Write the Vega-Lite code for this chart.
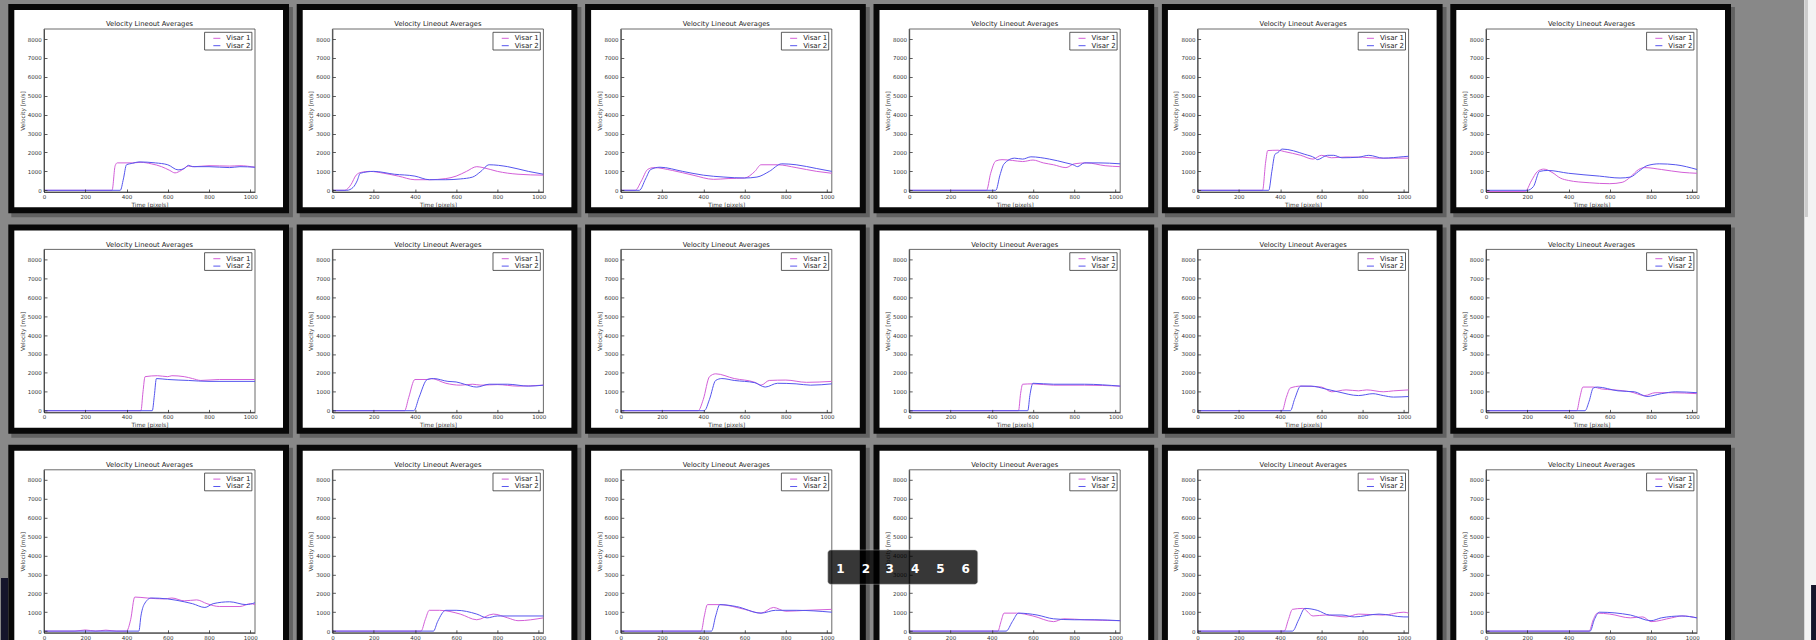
{
"$schema": "https://vega.github.io/schema/vega-lite/v6.json",
"background": "#888888",
"padding": 0,
"autosize": {"type": "pad"},
"data": {"values": [
{"p":1,"s":"Visar 1","t":0,"v":0},{"p":1,"s":"Visar 1","t":330,"v":0},{"p":1,"s":"Visar 1","t":345,"v":1300},{"p":1,"s":"Visar 1","t":355,"v":1450},{"p":1,"s":"Visar 1","t":430,"v":1450},{"p":1,"s":"Visar 1","t":470,"v":1480},{"p":1,"s":"Visar 1","t":520,"v":1400},{"p":1,"s":"Visar 1","t":570,"v":1250},{"p":1,"s":"Visar 1","t":610,"v":1050},{"p":1,"s":"Visar 1","t":635,"v":920},{"p":1,"s":"Visar 1","t":665,"v":1050},{"p":1,"s":"Visar 1","t":700,"v":1280},{"p":1,"s":"Visar 1","t":730,"v":1250},{"p":1,"s":"Visar 1","t":800,"v":1300},{"p":1,"s":"Visar 1","t":900,"v":1280},{"p":1,"s":"Visar 1","t":950,"v":1300},{"p":1,"s":"Visar 1","t":1023,"v":1220},
{"p":1,"s":"Visar 2","t":0,"v":0},{"p":1,"s":"Visar 2","t":370,"v":0},{"p":1,"s":"Visar 2","t":385,"v":600},{"p":1,"s":"Visar 2","t":400,"v":1350},{"p":1,"s":"Visar 2","t":430,"v":1430},{"p":1,"s":"Visar 2","t":460,"v":1500},{"p":1,"s":"Visar 2","t":540,"v":1450},{"p":1,"s":"Visar 2","t":600,"v":1350},{"p":1,"s":"Visar 2","t":650,"v":1080},{"p":1,"s":"Visar 2","t":680,"v":1150},{"p":1,"s":"Visar 2","t":700,"v":1320},{"p":1,"s":"Visar 2","t":720,"v":1250},{"p":1,"s":"Visar 2","t":800,"v":1250},{"p":1,"s":"Visar 2","t":900,"v":1200},{"p":1,"s":"Visar 2","t":950,"v":1250},{"p":1,"s":"Visar 2","t":1023,"v":1220},
{"p":2,"s":"Visar 1","t":0,"v":0},{"p":2,"s":"Visar 1","t":60,"v":0},{"p":2,"s":"Visar 1","t":90,"v":300},{"p":2,"s":"Visar 1","t":115,"v":800},{"p":2,"s":"Visar 1","t":140,"v":950},{"p":2,"s":"Visar 1","t":180,"v":1000},{"p":2,"s":"Visar 1","t":250,"v":900},{"p":2,"s":"Visar 1","t":320,"v":750},{"p":2,"s":"Visar 1","t":400,"v":560},{"p":2,"s":"Visar 1","t":470,"v":560},{"p":2,"s":"Visar 1","t":550,"v":620},{"p":2,"s":"Visar 1","t":600,"v":750},{"p":2,"s":"Visar 1","t":650,"v":1000},{"p":2,"s":"Visar 1","t":700,"v":1250},{"p":2,"s":"Visar 1","t":730,"v":1200},{"p":2,"s":"Visar 1","t":800,"v":1000},{"p":2,"s":"Visar 1","t":900,"v":850},{"p":2,"s":"Visar 1","t":1023,"v":800},
{"p":2,"s":"Visar 2","t":0,"v":0},{"p":2,"s":"Visar 2","t":70,"v":0},{"p":2,"s":"Visar 2","t":100,"v":150},{"p":2,"s":"Visar 2","t":120,"v":500},{"p":2,"s":"Visar 2","t":135,"v":900},{"p":2,"s":"Visar 2","t":200,"v":1000},{"p":2,"s":"Visar 2","t":300,"v":850},{"p":2,"s":"Visar 2","t":400,"v":750},{"p":2,"s":"Visar 2","t":470,"v":560},{"p":2,"s":"Visar 2","t":550,"v":560},{"p":2,"s":"Visar 2","t":620,"v":600},{"p":2,"s":"Visar 2","t":680,"v":700},{"p":2,"s":"Visar 2","t":720,"v":1000},{"p":2,"s":"Visar 2","t":760,"v":1350},{"p":2,"s":"Visar 2","t":850,"v":1250},{"p":2,"s":"Visar 2","t":950,"v":1000},{"p":2,"s":"Visar 2","t":1023,"v":850},
{"p":3,"s":"Visar 1","t":0,"v":0},{"p":3,"s":"Visar 1","t":70,"v":0},{"p":3,"s":"Visar 1","t":100,"v":500},{"p":3,"s":"Visar 1","t":130,"v":1100},{"p":3,"s":"Visar 1","t":160,"v":1200},{"p":3,"s":"Visar 1","t":250,"v":1050},{"p":3,"s":"Visar 1","t":350,"v":800},{"p":3,"s":"Visar 1","t":450,"v":580},{"p":3,"s":"Visar 1","t":520,"v":620},{"p":3,"s":"Visar 1","t":600,"v":650},{"p":3,"s":"Visar 1","t":650,"v":1000},{"p":3,"s":"Visar 1","t":680,"v":1350},{"p":3,"s":"Visar 1","t":760,"v":1350},{"p":3,"s":"Visar 1","t":850,"v":1200},{"p":3,"s":"Visar 1","t":950,"v":1000},{"p":3,"s":"Visar 1","t":1023,"v":900},
{"p":3,"s":"Visar 2","t":0,"v":0},{"p":3,"s":"Visar 2","t":90,"v":0},{"p":3,"s":"Visar 2","t":120,"v":600},{"p":3,"s":"Visar 2","t":145,"v":1100},{"p":3,"s":"Visar 2","t":190,"v":1220},{"p":3,"s":"Visar 2","t":300,"v":1000},{"p":3,"s":"Visar 2","t":400,"v":800},{"p":3,"s":"Visar 2","t":500,"v":700},{"p":3,"s":"Visar 2","t":600,"v":650},{"p":3,"s":"Visar 2","t":660,"v":700},{"p":3,"s":"Visar 2","t":720,"v":1000},{"p":3,"s":"Visar 2","t":780,"v":1400},{"p":3,"s":"Visar 2","t":850,"v":1350},{"p":3,"s":"Visar 2","t":950,"v":1150},{"p":3,"s":"Visar 2","t":1023,"v":1000},
{"p":4,"s":"Visar 1","t":0,"v":0},{"p":4,"s":"Visar 1","t":375,"v":0},{"p":4,"s":"Visar 1","t":395,"v":900},{"p":4,"s":"Visar 1","t":420,"v":1550},{"p":4,"s":"Visar 1","t":450,"v":1620},{"p":4,"s":"Visar 1","t":500,"v":1580},{"p":4,"s":"Visar 1","t":550,"v":1520},{"p":4,"s":"Visar 1","t":600,"v":1600},{"p":4,"s":"Visar 1","t":650,"v":1450},{"p":4,"s":"Visar 1","t":700,"v":1350},{"p":4,"s":"Visar 1","t":760,"v":1200},{"p":4,"s":"Visar 1","t":800,"v":1400},{"p":4,"s":"Visar 1","t":860,"v":1450},{"p":4,"s":"Visar 1","t":950,"v":1300},{"p":4,"s":"Visar 1","t":1023,"v":1250},
{"p":4,"s":"Visar 2","t":0,"v":0},{"p":4,"s":"Visar 2","t":420,"v":0},{"p":4,"s":"Visar 2","t":440,"v":800},{"p":4,"s":"Visar 2","t":460,"v":1400},{"p":4,"s":"Visar 2","t":510,"v":1700},{"p":4,"s":"Visar 2","t":550,"v":1650},{"p":4,"s":"Visar 2","t":590,"v":1770},{"p":4,"s":"Visar 2","t":680,"v":1650},{"p":4,"s":"Visar 2","t":760,"v":1450},{"p":4,"s":"Visar 2","t":800,"v":1330},{"p":4,"s":"Visar 2","t":815,"v":1250},{"p":4,"s":"Visar 2","t":850,"v":1450},{"p":4,"s":"Visar 2","t":920,"v":1450},{"p":4,"s":"Visar 2","t":1023,"v":1400},
{"p":5,"s":"Visar 1","t":0,"v":0},{"p":5,"s":"Visar 1","t":315,"v":0},{"p":5,"s":"Visar 1","t":330,"v":1500},{"p":5,"s":"Visar 1","t":340,"v":2100},{"p":5,"s":"Visar 1","t":390,"v":2120},{"p":5,"s":"Visar 1","t":420,"v":2050},{"p":5,"s":"Visar 1","t":500,"v":1850},{"p":5,"s":"Visar 1","t":560,"v":1650},{"p":5,"s":"Visar 1","t":600,"v":1850},{"p":5,"s":"Visar 1","t":650,"v":1720},{"p":5,"s":"Visar 1","t":720,"v":1760},{"p":5,"s":"Visar 1","t":800,"v":1750},{"p":5,"s":"Visar 1","t":870,"v":1700},{"p":5,"s":"Visar 1","t":1023,"v":1700},
{"p":5,"s":"Visar 2","t":0,"v":0},{"p":5,"s":"Visar 2","t":345,"v":0},{"p":5,"s":"Visar 2","t":360,"v":1000},{"p":5,"s":"Visar 2","t":375,"v":1900},{"p":5,"s":"Visar 2","t":390,"v":2000},{"p":5,"s":"Visar 2","t":410,"v":2180},{"p":5,"s":"Visar 2","t":520,"v":1900},{"p":5,"s":"Visar 2","t":570,"v":1700},{"p":5,"s":"Visar 2","t":580,"v":1620},{"p":5,"s":"Visar 2","t":630,"v":1850},{"p":5,"s":"Visar 2","t":660,"v":1850},{"p":5,"s":"Visar 2","t":700,"v":1720},{"p":5,"s":"Visar 2","t":780,"v":1750},{"p":5,"s":"Visar 2","t":830,"v":1850},{"p":5,"s":"Visar 2","t":900,"v":1700},{"p":5,"s":"Visar 2","t":1000,"v":1780},{"p":5,"s":"Visar 2","t":1023,"v":1800},
{"p":6,"s":"Visar 1","t":0,"v":-60},{"p":6,"s":"Visar 1","t":190,"v":-60},{"p":6,"s":"Visar 1","t":220,"v":500},{"p":6,"s":"Visar 1","t":250,"v":1000},{"p":6,"s":"Visar 1","t":280,"v":1120},{"p":6,"s":"Visar 1","t":320,"v":950},{"p":6,"s":"Visar 1","t":360,"v":650},{"p":6,"s":"Visar 1","t":400,"v":520},{"p":6,"s":"Visar 1","t":500,"v":400},{"p":6,"s":"Visar 1","t":600,"v":350},{"p":6,"s":"Visar 1","t":660,"v":420},{"p":6,"s":"Visar 1","t":700,"v":700},{"p":6,"s":"Visar 1","t":740,"v":1100},{"p":6,"s":"Visar 1","t":770,"v":1200},{"p":6,"s":"Visar 1","t":850,"v":1100},{"p":6,"s":"Visar 1","t":950,"v":950},{"p":6,"s":"Visar 1","t":1023,"v":900},
{"p":6,"s":"Visar 2","t":0,"v":0},{"p":6,"s":"Visar 2","t":200,"v":0},{"p":6,"s":"Visar 2","t":230,"v":200},{"p":6,"s":"Visar 2","t":260,"v":1000},{"p":6,"s":"Visar 2","t":300,"v":1050},{"p":6,"s":"Visar 2","t":400,"v":900},{"p":6,"s":"Visar 2","t":550,"v":750},{"p":6,"s":"Visar 2","t":650,"v":650},{"p":6,"s":"Visar 2","t":700,"v":700},{"p":6,"s":"Visar 2","t":740,"v":1000},{"p":6,"s":"Visar 2","t":780,"v":1300},{"p":6,"s":"Visar 2","t":840,"v":1400},{"p":6,"s":"Visar 2","t":920,"v":1350},{"p":6,"s":"Visar 2","t":1023,"v":1100},
{"p":7,"s":"Visar 1","t":0,"v":0},{"p":7,"s":"Visar 1","t":470,"v":0},{"p":7,"s":"Visar 1","t":480,"v":1000},{"p":7,"s":"Visar 1","t":490,"v":1800},{"p":7,"s":"Visar 1","t":550,"v":1850},{"p":7,"s":"Visar 1","t":600,"v":1800},{"p":7,"s":"Visar 1","t":620,"v":1850},{"p":7,"s":"Visar 1","t":680,"v":1800},{"p":7,"s":"Visar 1","t":720,"v":1700},{"p":7,"s":"Visar 1","t":760,"v":1600},{"p":7,"s":"Visar 1","t":850,"v":1650},{"p":7,"s":"Visar 1","t":1023,"v":1650},
{"p":7,"s":"Visar 2","t":0,"v":0},{"p":7,"s":"Visar 2","t":525,"v":0},{"p":7,"s":"Visar 2","t":535,"v":800},{"p":7,"s":"Visar 2","t":545,"v":1700},{"p":7,"s":"Visar 2","t":600,"v":1650},{"p":7,"s":"Visar 2","t":700,"v":1600},{"p":7,"s":"Visar 2","t":800,"v":1550},{"p":7,"s":"Visar 2","t":1023,"v":1550},
{"p":8,"s":"Visar 1","t":0,"v":0},{"p":8,"s":"Visar 1","t":350,"v":0},{"p":8,"s":"Visar 1","t":370,"v":700},{"p":8,"s":"Visar 1","t":400,"v":1650},{"p":8,"s":"Visar 1","t":460,"v":1650},{"p":8,"s":"Visar 1","t":480,"v":1700},{"p":8,"s":"Visar 1","t":550,"v":1450},{"p":8,"s":"Visar 1","t":620,"v":1350},{"p":8,"s":"Visar 1","t":680,"v":1400},{"p":8,"s":"Visar 1","t":720,"v":1350},{"p":8,"s":"Visar 1","t":800,"v":1380},{"p":8,"s":"Visar 1","t":900,"v":1300},{"p":8,"s":"Visar 1","t":1023,"v":1350},
{"p":8,"s":"Visar 2","t":0,"v":0},{"p":8,"s":"Visar 2","t":395,"v":0},{"p":8,"s":"Visar 2","t":420,"v":700},{"p":8,"s":"Visar 2","t":460,"v":1650},{"p":8,"s":"Visar 2","t":490,"v":1700},{"p":8,"s":"Visar 2","t":560,"v":1550},{"p":8,"s":"Visar 2","t":600,"v":1520},{"p":8,"s":"Visar 2","t":640,"v":1400},{"p":8,"s":"Visar 2","t":700,"v":1250},{"p":8,"s":"Visar 2","t":760,"v":1400},{"p":8,"s":"Visar 2","t":850,"v":1400},{"p":8,"s":"Visar 2","t":950,"v":1300},{"p":8,"s":"Visar 2","t":1023,"v":1350},
{"p":9,"s":"Visar 1","t":0,"v":0},{"p":9,"s":"Visar 1","t":375,"v":0},{"p":9,"s":"Visar 1","t":400,"v":600},{"p":9,"s":"Visar 1","t":430,"v":1800},{"p":9,"s":"Visar 1","t":460,"v":1950},{"p":9,"s":"Visar 1","t":550,"v":1700},{"p":9,"s":"Visar 1","t":650,"v":1500},{"p":9,"s":"Visar 1","t":680,"v":1350},{"p":9,"s":"Visar 1","t":720,"v":1600},{"p":9,"s":"Visar 1","t":800,"v":1620},{"p":9,"s":"Visar 1","t":900,"v":1500},{"p":9,"s":"Visar 1","t":1023,"v":1550},
{"p":9,"s":"Visar 2","t":0,"v":0},{"p":9,"s":"Visar 2","t":405,"v":0},{"p":9,"s":"Visar 2","t":430,"v":600},{"p":9,"s":"Visar 2","t":460,"v":1600},{"p":9,"s":"Visar 2","t":490,"v":1700},{"p":9,"s":"Visar 2","t":550,"v":1600},{"p":9,"s":"Visar 2","t":650,"v":1480},{"p":9,"s":"Visar 2","t":700,"v":1250},{"p":9,"s":"Visar 2","t":760,"v":1450},{"p":9,"s":"Visar 2","t":850,"v":1420},{"p":9,"s":"Visar 2","t":920,"v":1350},{"p":9,"s":"Visar 2","t":1023,"v":1420},
{"p":10,"s":"Visar 1","t":0,"v":0},{"p":10,"s":"Visar 1","t":530,"v":0},{"p":10,"s":"Visar 1","t":540,"v":900},{"p":10,"s":"Visar 1","t":550,"v":1400},{"p":10,"s":"Visar 1","t":600,"v":1420},{"p":10,"s":"Visar 1","t":700,"v":1350},{"p":10,"s":"Visar 1","t":850,"v":1350},{"p":10,"s":"Visar 1","t":1023,"v":1300},
{"p":10,"s":"Visar 2","t":0,"v":0},{"p":10,"s":"Visar 2","t":575,"v":0},{"p":10,"s":"Visar 2","t":585,"v":800},{"p":10,"s":"Visar 2","t":600,"v":1450},{"p":10,"s":"Visar 2","t":700,"v":1400},{"p":10,"s":"Visar 2","t":850,"v":1400},{"p":10,"s":"Visar 2","t":1023,"v":1300},
{"p":11,"s":"Visar 1","t":0,"v":0},{"p":11,"s":"Visar 1","t":410,"v":0},{"p":11,"s":"Visar 1","t":430,"v":700},{"p":11,"s":"Visar 1","t":450,"v":1200},{"p":11,"s":"Visar 1","t":500,"v":1300},{"p":11,"s":"Visar 1","t":600,"v":1250},{"p":11,"s":"Visar 1","t":650,"v":1000},{"p":11,"s":"Visar 1","t":720,"v":1100},{"p":11,"s":"Visar 1","t":780,"v":1050},{"p":11,"s":"Visar 1","t":820,"v":1100},{"p":11,"s":"Visar 1","t":900,"v":1000},{"p":11,"s":"Visar 1","t":950,"v":1050},{"p":11,"s":"Visar 1","t":1023,"v":1100},
{"p":11,"s":"Visar 2","t":0,"v":0},{"p":11,"s":"Visar 2","t":450,"v":0},{"p":11,"s":"Visar 2","t":470,"v":600},{"p":11,"s":"Visar 2","t":500,"v":1300},{"p":11,"s":"Visar 2","t":550,"v":1300},{"p":11,"s":"Visar 2","t":620,"v":1150},{"p":11,"s":"Visar 2","t":680,"v":1000},{"p":11,"s":"Visar 2","t":780,"v":800},{"p":11,"s":"Visar 2","t":850,"v":900},{"p":11,"s":"Visar 2","t":900,"v":800},{"p":11,"s":"Visar 2","t":950,"v":720},{"p":11,"s":"Visar 2","t":1023,"v":750},
{"p":12,"s":"Visar 1","t":0,"v":0},{"p":12,"s":"Visar 1","t":440,"v":0},{"p":12,"s":"Visar 1","t":455,"v":700},{"p":12,"s":"Visar 1","t":470,"v":1250},{"p":12,"s":"Visar 1","t":520,"v":1250},{"p":12,"s":"Visar 1","t":560,"v":1150},{"p":12,"s":"Visar 1","t":620,"v":1100},{"p":12,"s":"Visar 1","t":700,"v":1000},{"p":12,"s":"Visar 1","t":770,"v":800},{"p":12,"s":"Visar 1","t":820,"v":950},{"p":12,"s":"Visar 1","t":900,"v":950},{"p":12,"s":"Visar 1","t":1023,"v":900},
{"p":12,"s":"Visar 2","t":0,"v":0},{"p":12,"s":"Visar 2","t":480,"v":0},{"p":12,"s":"Visar 2","t":500,"v":500},{"p":12,"s":"Visar 2","t":520,"v":1200},{"p":12,"s":"Visar 2","t":540,"v":1250},{"p":12,"s":"Visar 2","t":640,"v":1050},{"p":12,"s":"Visar 2","t":720,"v":1000},{"p":12,"s":"Visar 2","t":780,"v":750},{"p":12,"s":"Visar 2","t":850,"v":900},{"p":12,"s":"Visar 2","t":920,"v":1000},{"p":12,"s":"Visar 2","t":1023,"v":950},
{"p":13,"s":"Visar 1","t":0,"v":0},{"p":13,"s":"Visar 1","t":150,"v":0},{"p":13,"s":"Visar 1","t":200,"v":60},{"p":13,"s":"Visar 1","t":250,"v":0},{"p":13,"s":"Visar 1","t":300,"v":50},{"p":13,"s":"Visar 1","t":350,"v":0},{"p":13,"s":"Visar 1","t":400,"v":0},{"p":13,"s":"Visar 1","t":420,"v":600},{"p":13,"s":"Visar 1","t":440,"v":1800},{"p":13,"s":"Visar 1","t":500,"v":1750},{"p":13,"s":"Visar 1","t":580,"v":1700},{"p":13,"s":"Visar 1","t":620,"v":1750},{"p":13,"s":"Visar 1","t":680,"v":1600},{"p":13,"s":"Visar 1","t":740,"v":1650},{"p":13,"s":"Visar 1","t":790,"v":1450},{"p":13,"s":"Visar 1","t":850,"v":1300},{"p":13,"s":"Visar 1","t":950,"v":1300},{"p":13,"s":"Visar 1","t":1000,"v":1450},{"p":13,"s":"Visar 1","t":1023,"v":1400},
{"p":13,"s":"Visar 2","t":0,"v":0},{"p":13,"s":"Visar 2","t":460,"v":0},{"p":13,"s":"Visar 2","t":470,"v":800},{"p":13,"s":"Visar 2","t":485,"v":1400},{"p":13,"s":"Visar 2","t":520,"v":1750},{"p":13,"s":"Visar 2","t":600,"v":1700},{"p":13,"s":"Visar 2","t":680,"v":1550},{"p":13,"s":"Visar 2","t":720,"v":1450},{"p":13,"s":"Visar 2","t":780,"v":1250},{"p":13,"s":"Visar 2","t":820,"v":1450},{"p":13,"s":"Visar 2","t":900,"v":1550},{"p":13,"s":"Visar 2","t":980,"v":1400},{"p":13,"s":"Visar 2","t":1023,"v":1500},
{"p":14,"s":"Visar 1","t":0,"v":0},{"p":14,"s":"Visar 1","t":430,"v":0},{"p":14,"s":"Visar 1","t":450,"v":600},{"p":14,"s":"Visar 1","t":470,"v":1100},{"p":14,"s":"Visar 1","t":520,"v":1100},{"p":14,"s":"Visar 1","t":620,"v":900},{"p":14,"s":"Visar 1","t":700,"v":600},{"p":14,"s":"Visar 1","t":780,"v":900},{"p":14,"s":"Visar 1","t":850,"v":700},{"p":14,"s":"Visar 1","t":900,"v":550},{"p":14,"s":"Visar 1","t":1023,"v":700},
{"p":14,"s":"Visar 2","t":0,"v":0},{"p":14,"s":"Visar 2","t":490,"v":0},{"p":14,"s":"Visar 2","t":510,"v":500},{"p":14,"s":"Visar 2","t":550,"v":1100},{"p":14,"s":"Visar 2","t":600,"v":1100},{"p":14,"s":"Visar 2","t":700,"v":900},{"p":14,"s":"Visar 2","t":750,"v":700},{"p":14,"s":"Visar 2","t":800,"v":800},{"p":14,"s":"Visar 2","t":1023,"v":800},
{"p":15,"s":"Visar 1","t":0,"v":0},{"p":15,"s":"Visar 1","t":390,"v":0},{"p":15,"s":"Visar 1","t":405,"v":800},{"p":15,"s":"Visar 1","t":420,"v":1400},{"p":15,"s":"Visar 1","t":480,"v":1400},{"p":15,"s":"Visar 1","t":600,"v":1150},{"p":15,"s":"Visar 1","t":680,"v":950},{"p":15,"s":"Visar 1","t":740,"v":1250},{"p":15,"s":"Visar 1","t":800,"v":1050},{"p":15,"s":"Visar 1","t":900,"v":1100},{"p":15,"s":"Visar 1","t":1023,"v":1150},
{"p":15,"s":"Visar 2","t":0,"v":0},{"p":15,"s":"Visar 2","t":440,"v":0},{"p":15,"s":"Visar 2","t":460,"v":800},{"p":15,"s":"Visar 2","t":480,"v":1400},{"p":15,"s":"Visar 2","t":560,"v":1300},{"p":15,"s":"Visar 2","t":680,"v":950},{"p":15,"s":"Visar 2","t":750,"v":1100},{"p":15,"s":"Visar 2","t":850,"v":1100},{"p":15,"s":"Visar 2","t":1023,"v":1000},
{"p":16,"s":"Visar 1","t":0,"v":0},{"p":16,"s":"Visar 1","t":430,"v":0},{"p":16,"s":"Visar 1","t":445,"v":500},{"p":16,"s":"Visar 1","t":460,"v":950},{"p":16,"s":"Visar 1","t":520,"v":950},{"p":16,"s":"Visar 1","t":600,"v":800},{"p":16,"s":"Visar 1","t":700,"v":500},{"p":16,"s":"Visar 1","t":750,"v":650},{"p":16,"s":"Visar 1","t":850,"v":600},{"p":16,"s":"Visar 1","t":1023,"v":550},
{"p":16,"s":"Visar 2","t":0,"v":0},{"p":16,"s":"Visar 2","t":470,"v":0},{"p":16,"s":"Visar 2","t":500,"v":500},{"p":16,"s":"Visar 2","t":530,"v":950},{"p":16,"s":"Visar 2","t":620,"v":850},{"p":16,"s":"Visar 2","t":700,"v":650},{"p":16,"s":"Visar 2","t":800,"v":600},{"p":16,"s":"Visar 2","t":900,"v":600},{"p":16,"s":"Visar 2","t":1023,"v":550},
{"p":17,"s":"Visar 1","t":0,"v":0},{"p":17,"s":"Visar 1","t":420,"v":0},{"p":17,"s":"Visar 1","t":440,"v":600},{"p":17,"s":"Visar 1","t":460,"v":1150},{"p":17,"s":"Visar 1","t":510,"v":1200},{"p":17,"s":"Visar 1","t":560,"v":800},{"p":17,"s":"Visar 1","t":620,"v":850},{"p":17,"s":"Visar 1","t":720,"v":750},{"p":17,"s":"Visar 1","t":780,"v":900},{"p":17,"s":"Visar 1","t":900,"v":850},{"p":17,"s":"Visar 1","t":1000,"v":1000},{"p":17,"s":"Visar 1","t":1023,"v":950},
{"p":17,"s":"Visar 2","t":0,"v":0},{"p":17,"s":"Visar 2","t":460,"v":0},{"p":17,"s":"Visar 2","t":490,"v":600},{"p":17,"s":"Visar 2","t":520,"v":1200},{"p":17,"s":"Visar 2","t":580,"v":1100},{"p":17,"s":"Visar 2","t":640,"v":850},{"p":17,"s":"Visar 2","t":700,"v":850},{"p":17,"s":"Visar 2","t":760,"v":750},{"p":17,"s":"Visar 2","t":880,"v":900},{"p":17,"s":"Visar 2","t":1000,"v":750},{"p":17,"s":"Visar 2","t":1023,"v":750},
{"p":18,"s":"Visar 1","t":0,"v":0},{"p":18,"s":"Visar 1","t":500,"v":0},{"p":18,"s":"Visar 1","t":520,"v":600},{"p":18,"s":"Visar 1","t":540,"v":950},{"p":18,"s":"Visar 1","t":600,"v":900},{"p":18,"s":"Visar 1","t":700,"v":700},{"p":18,"s":"Visar 1","t":760,"v":750},{"p":18,"s":"Visar 1","t":800,"v":500},{"p":18,"s":"Visar 1","t":900,"v":700},{"p":18,"s":"Visar 1","t":950,"v":800},{"p":18,"s":"Visar 1","t":1023,"v":700},
{"p":18,"s":"Visar 2","t":0,"v":0},{"p":18,"s":"Visar 2","t":505,"v":0},{"p":18,"s":"Visar 2","t":525,"v":600},{"p":18,"s":"Visar 2","t":550,"v":1000},{"p":18,"s":"Visar 2","t":700,"v":850},{"p":18,"s":"Visar 2","t":800,"v":550},{"p":18,"s":"Visar 2","t":850,"v":700},{"p":18,"s":"Visar 2","t":950,"v":800},{"p":18,"s":"Visar 2","t":1023,"v":700}
]},
"facet": {"field": "p", "type": "ordinal", "header": null},
"columns": 6,
"spacing": {"row": 57.4, "column": 77.4},
"bounds": "flush",
"resolve": {"axis": {"x": "independent", "y": "independent"}},
"spec": {
"width": 211,
"height": 163,
"layer": [
{"transform": [{"filter": "datum.t == 0 && datum.s == 'Visar 1'"}],
 "mark": {"type": "rect", "fill": "#2a2a2a", "opacity": 0.4},
 "encoding": {"x": {"datum": -158.5, "type": "quantitative"}, "x2": {"datum": 1207}, "y": {"datum": 9693, "type": "quantitative"}, "y2": {"datum": -1428}}},
{"transform": [{"filter": "datum.t == 0 && datum.s == 'Visar 1'"}],
 "mark": {"type": "rect", "fill": "#ffffff", "stroke": "#080808", "strokeWidth": 6},
 "encoding": {"x": {"datum": -158.5, "type": "quantitative"}, "x2": {"datum": 1173.3}, "y": {"datum": 9693, "type": "quantitative"}, "y2": {"datum": -1058}}},
{"transform": [{"filter": "datum.t == 0 && datum.s == 'Visar 1'"}],
 "mark": {"type": "rect", "filled": false, "stroke": "#444444", "strokeWidth": 0.8},
 "encoding": {"x": {"datum": 0, "type": "quantitative"}, "x2": {"datum": 1023}, "y": {"datum": -90, "type": "quantitative"}, "y2": {"datum": 8530}}},
{"mark": {"type": "line", "strokeWidth": 1, "interpolate": "monotone"},
 "encoding": {
  "x": {"field": "t", "type": "quantitative", "scale": {"domain": [0, 1023], "nice": false, "zero": false}, "axis": {"title": "Time [pixels]", "values": [0, 200, 400, 600, 800, 1000], "tickCount": 6, "format": "d", "labelOverlap": false, "labelFlush": false, "zindex": 2}},
  "y": {"field": "v", "type": "quantitative", "scale": {"domain": [-90, 8530], "nice": false, "zero": false}, "axis": {"title": "Velocity [m/s]", "values": [0, 1000, 2000, 3000, 4000, 5000, 6000, 7000, 8000], "tickCount": 9, "format": "d", "labelOverlap": false, "labelFlush": false, "zindex": 2}},
  "color": {"field": "s", "type": "nominal", "scale": {"domain": ["Visar 1", "Visar 2"], "range": ["#d35fd8", "#5555ee"]}, "legend": null}}},
{"transform": [{"filter": "datum.t == 0 && datum.s == 'Visar 1'"}],
 "mark": {"type": "rect", "fill": "#ffffff", "stroke": "#333333", "strokeWidth": 0.8},
 "encoding": {"x": {"datum": 778.6, "type": "quantitative"}, "x2": {"datum": 1008}, "y": {"datum": 8355, "type": "quantitative"}, "y2": {"datum": 7419}}},
{"transform": [{"filter": "datum.t == 0 && datum.s == 'Visar 1'"}],
 "mark": {"type": "rule", "color": "#d35fd8", "strokeWidth": 1},
 "encoding": {"x": {"datum": 821, "type": "quantitative"}, "x2": {"datum": 855}, "y": {"datum": 8038, "type": "quantitative"}}},
{"transform": [{"filter": "datum.t == 0 && datum.s == 'Visar 1'"}],
 "mark": {"type": "rule", "color": "#5555ee", "strokeWidth": 1},
 "encoding": {"x": {"datum": 821, "type": "quantitative"}, "x2": {"datum": 855}, "y": {"datum": 7647, "type": "quantitative"}}},
{"transform": [{"filter": "datum.t == 0 && datum.s == 'Visar 1'"}],
 "mark": {"type": "text", "align": "left", "baseline": "middle", "fontSize": 7, "color": "#222222"},
 "encoding": {"x": {"datum": 884, "type": "quantitative"}, "y": {"datum": 8038, "type": "quantitative"}, "text": {"value": "Visar 1"}}},
{"transform": [{"filter": "datum.t == 0 && datum.s == 'Visar 1'"}],
 "mark": {"type": "text", "align": "left", "baseline": "middle", "fontSize": 7, "color": "#222222"},
 "encoding": {"x": {"datum": 884, "type": "quantitative"}, "y": {"datum": 7647, "type": "quantitative"}, "text": {"value": "Visar 2"}}},
{"transform": [{"filter": "datum.t == 0 && datum.s == 'Visar 1'"}],
 "mark": {"type": "text", "align": "center", "baseline": "middle", "fontSize": 6.75, "color": "#222222"},
 "encoding": {"x": {"datum": 511.5, "type": "quantitative"}, "y": {"datum": 8773, "type": "quantitative"}, "text": {"value": "Velocity Lineout Averages"}}},
{"transform": [{"filter": "datum.p == 13 && datum.t == 0 && datum.s == 'Visar 1'"}],
 "mark": {"type": "rect", "fill": "#15152b"},
 "encoding": {"x": {"datum": -208.5, "type": "quantitative"}, "x2": {"datum": -174.5}, "y": {"datum": 2808, "type": "quantitative"}, "y2": {"datum": -471}}},
{"transform": [{"filter": "datum.p == 17 && datum.t == 0 && datum.s == 'Visar 1'"}],
 "mark": {"type": "rect", "fill": "#000000", "opacity": 0.78, "cornerRadius": 3, "stroke": "#bbbbbb", "strokeOpacity": 0.5, "strokeWidth": 1},
 "encoding": {"x": {"datum": -1793, "type": "quantitative"}, "x2": {"datum": -1066}, "y": {"datum": 4289, "type": "quantitative"}, "y2": {"datum": 2475}}},
{"transform": [{"filter": "datum.p == 17 && datum.t == 0 && datum.s == 'Visar 1'"}],
 "mark": {"type": "text", "align": "center", "baseline": "middle", "fontSize": 12, "fontWeight": "bold", "color": "#ffffff"},
 "encoding": {"x": {"datum": -1732, "type": "quantitative"}, "y": {"datum": 3284, "type": "quantitative"}, "text": {"value": "1"}}},
{"transform": [{"filter": "datum.p == 17 && datum.t == 0 && datum.s == 'Visar 1'"}],
 "mark": {"type": "text", "align": "center", "baseline": "middle", "fontSize": 12, "fontWeight": "bold", "color": "#ffffff"},
 "encoding": {"x": {"datum": -1608, "type": "quantitative"}, "y": {"datum": 3284, "type": "quantitative"}, "text": {"value": "2"}}},
{"transform": [{"filter": "datum.p == 17 && datum.t == 0 && datum.s == 'Visar 1'"}],
 "mark": {"type": "text", "align": "center", "baseline": "middle", "fontSize": 12, "fontWeight": "bold", "color": "#ffffff"},
 "encoding": {"x": {"datum": -1493, "type": "quantitative"}, "y": {"datum": 3284, "type": "quantitative"}, "text": {"value": "3"}}},
{"transform": [{"filter": "datum.p == 17 && datum.t == 0 && datum.s == 'Visar 1'"}],
 "mark": {"type": "text", "align": "center", "baseline": "middle", "fontSize": 12, "fontWeight": "bold", "color": "#ffffff"},
 "encoding": {"x": {"datum": -1369, "type": "quantitative"}, "y": {"datum": 3284, "type": "quantitative"}, "text": {"value": "4"}}},
{"transform": [{"filter": "datum.p == 17 && datum.t == 0 && datum.s == 'Visar 1'"}],
 "mark": {"type": "text", "align": "center", "baseline": "middle", "fontSize": 12, "fontWeight": "bold", "color": "#ffffff"},
 "encoding": {"x": {"datum": -1247, "type": "quantitative"}, "y": {"datum": 3284, "type": "quantitative"}, "text": {"value": "5"}}},
{"transform": [{"filter": "datum.p == 17 && datum.t == 0 && datum.s == 'Visar 1'"}],
 "mark": {"type": "text", "align": "center", "baseline": "middle", "fontSize": 12, "fontWeight": "bold", "color": "#ffffff"},
 "encoding": {"x": {"datum": -1124, "type": "quantitative"}, "y": {"datum": 3284, "type": "quantitative"}, "text": {"value": "6"}}},
{"transform": [{"filter": "datum.p == 18 && datum.t == 0 && datum.s == 'Visar 1'"}],
 "mark": {"type": "rect", "fill": "#f3f3f3"},
 "encoding": {"x": {"datum": 1543, "type": "quantitative"}, "x2": {"datum": 1605}, "y": {"datum": 33374, "type": "quantitative"}, "y2": {"datum": -471}}},
{"transform": [{"filter": "datum.p == 18 && datum.t == 0 && datum.s == 'Visar 1'"}],
 "mark": {"type": "rect", "fill": "#cccccc"},
 "encoding": {"x": {"datum": 1546.6, "type": "quantitative"}, "x2": {"datum": 1561}, "y": {"datum": 33374, "type": "quantitative"}, "y2": {"datum": 21899}}},
{"transform": [{"filter": "datum.p == 18 && datum.t == 0 && datum.s == 'Visar 1'"}],
 "mark": {"type": "rect", "fill": "#15152b"},
 "encoding": {"x": {"datum": 1576, "type": "quantitative"}, "x2": {"datum": 1605}, "y": {"datum": 2438, "type": "quantitative"}, "y2": {"datum": -471}}}
]
},
"config": {
 "view": {"stroke": null},
 "font": "DejaVu Sans",
 "header": {"labels": false, "title": null, "labelFontSize": 0, "labelPadding": 0, "labelExpr": "''"},
 "axis": {"zindex": 2, "grid": false, "domainColor": "#333333", "domainWidth": 0.8, "tickColor": "#333333", "tickWidth": 0.8, "tickSize": -3, "labelColor": "#333333", "labelFontSize": 5.5, "labelFont": "DejaVu Sans", "labelFlush": false, "labelOverlap": false, "titleColor": "#333333", "titleFont": "DejaVu Sans", "titleFontSize": 5.75, "titleFontWeight": "normal"},
 "axisX": {"labelPadding": 5.5, "titlePadding": 1, "tickCount": 6},
 "axisY": {"labelPadding": 5.7, "titlePadding": 2, "tickCount": 9}
}
}
